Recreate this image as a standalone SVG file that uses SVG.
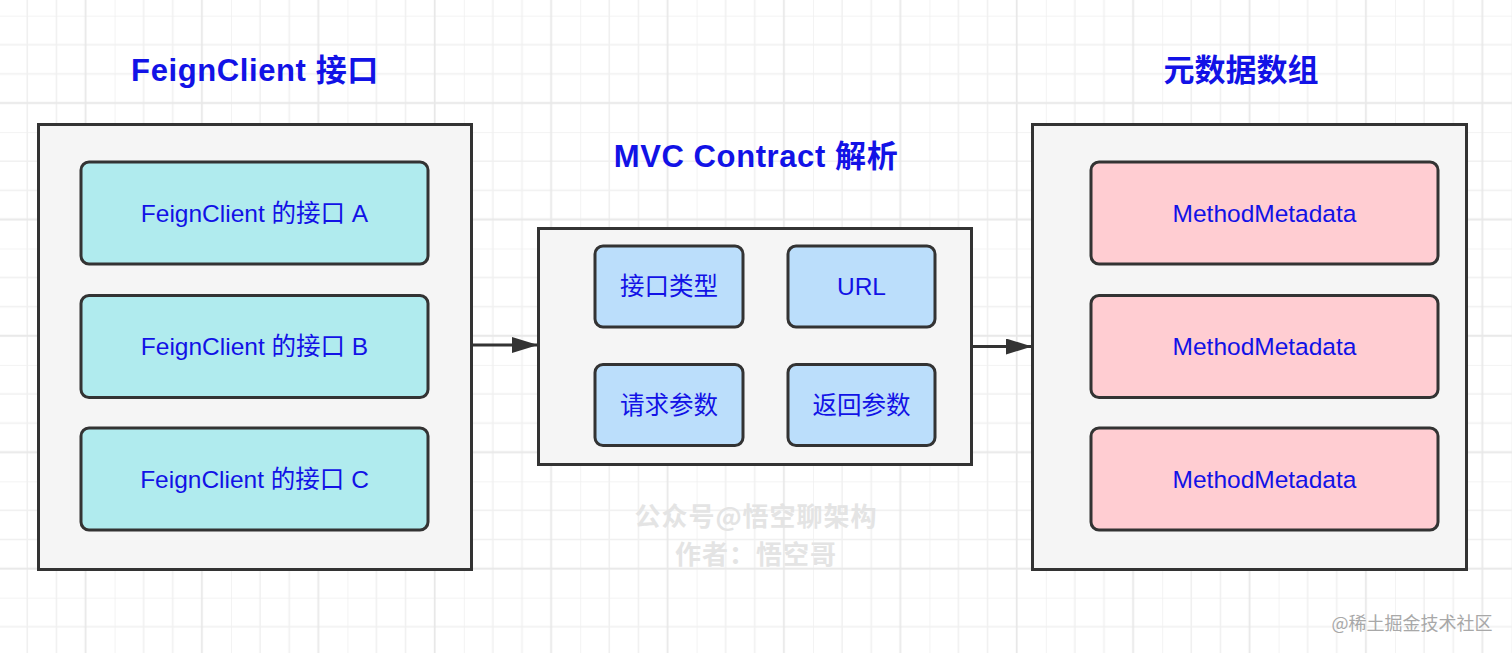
<svg xmlns="http://www.w3.org/2000/svg" width="1512" height="653" viewBox="0 0 1512 653">
  <defs>
    <pattern id="grid" x="-1.8" y="15.7" width="116.4" height="116.4" patternUnits="userSpaceOnUse">
      <path d="M0 0V116.4M29.1 0V116.4M58.2 0V116.4M0 0H116.4M0 29.1H116.4M0 58.2H116.4" stroke="#f0f0f0" stroke-width="1.5" fill="none"/>
      <path d="M87.3 0V116.4M0 87.3H116.4" stroke="#e8e8e8" stroke-width="1.8" fill="none"/>
    </pattern>
    <marker id="arrow" markerWidth="26" markerHeight="16" refX="26" refY="8" orient="auto" markerUnits="userSpaceOnUse">
      <path d="M0 0L26 8L0 16Z" fill="#333"/>
    </marker>
    <style>
      .container{fill:#f5f5f5;stroke:#333;stroke-width:3}
      .cyan{fill:#b0ebee;stroke:#333;stroke-width:3}
      .blue{fill:#bbdefb;stroke:#333;stroke-width:3}
      .pink{fill:#ffcdd2;stroke:#333;stroke-width:3}
      .title{font-family:"Liberation Sans","Noto Sans CJK SC",sans-serif;font-size:31px;font-weight:bold;fill:#1212e6;text-anchor:middle}
      .label{font-family:"Liberation Sans","Noto Sans CJK SC",sans-serif;font-size:24.5px;fill:#1212e6;text-anchor:middle;dominant-baseline:central}
      .wm{font-family:"Noto Sans CJK SC",sans-serif;font-size:26px;font-weight:bold;fill:#e4e4e4;text-anchor:middle}
      .conn{stroke:#333;stroke-width:3;fill:none}
    </style>
  </defs>
  <rect width="1512" height="653" fill="#ffffff"/>
  <rect width="1512" height="653" fill="url(#grid)"/>

  <text class="title" x="255" y="81" letter-spacing="0.6">FeignClient 接口</text>
  <text class="title" x="756" y="167" letter-spacing="0.6">MVC Contract 解析</text>
  <text class="title" x="1241" y="81">元数据数组</text>

  <g id="left-container">
    <rect class="container" x="38.5" y="124.5" width="433" height="445"/>
  </g>
  <g id="feign-a">
    <rect class="cyan" x="81" y="162" width="347" height="102" rx="8"/>
    <text class="label" x="254.5" y="213">FeignClient 的接口 A</text>
  </g>
  <g id="feign-b">
    <rect class="cyan" x="81" y="295.5" width="347" height="102" rx="8"/>
    <text class="label" x="254.5" y="346.5">FeignClient 的接口 B</text>
  </g>
  <g id="feign-c">
    <rect class="cyan" x="81" y="428" width="347" height="102" rx="8"/>
    <text class="label" x="254.5" y="479">FeignClient 的接口 C</text>
  </g>

  <g id="mid-container">
    <rect class="container" x="538.5" y="228.5" width="433" height="236"/>
  </g>
  <g id="iface-type">
    <rect class="blue" x="595" y="246" width="148" height="81" rx="8"/>
    <text class="label" x="669" y="286.5">接口类型</text>
  </g>
  <g id="url">
    <rect class="blue" x="788" y="246" width="147" height="81" rx="8"/>
    <text class="label" x="861.5" y="286.5">URL</text>
  </g>
  <g id="req-params">
    <rect class="blue" x="595" y="364.5" width="148" height="81" rx="8"/>
    <text class="label" x="669" y="405">请求参数</text>
  </g>
  <g id="resp-params">
    <rect class="blue" x="788" y="364.5" width="147" height="81" rx="8"/>
    <text class="label" x="861.5" y="405">返回参数</text>
  </g>

  <g id="right-container">
    <rect class="container" x="1032.5" y="124.5" width="434" height="445"/>
  </g>
  <g id="meta-1">
    <rect class="pink" x="1091" y="162" width="347" height="102" rx="8"/>
    <text class="label" x="1264.5" y="213">MethodMetadata</text>
  </g>
  <g id="meta-2">
    <rect class="pink" x="1091" y="295.5" width="347" height="102" rx="8"/>
    <text class="label" x="1264.5" y="346.5">MethodMetadata</text>
  </g>
  <g id="meta-3">
    <rect class="pink" x="1091" y="428" width="347" height="102" rx="8"/>
    <text class="label" x="1264.5" y="479">MethodMetadata</text>
  </g>

  <g id="connectors">
    <line class="conn" x1="472" y1="345" x2="538" y2="345" marker-end="url(#arrow)"/>
    <line class="conn" x1="972" y1="346.5" x2="1032" y2="346.5" marker-end="url(#arrow)"/>
  </g>

  <text class="wm" x="756" y="526" letter-spacing="1">公众号@悟空聊架构</text>
  <text class="wm" x="756" y="564" letter-spacing="1">作者：悟空哥</text>
  <text x="1412" y="630" font-family="Noto Sans CJK SC, sans-serif" font-size="18" fill="#a8a8a8" text-anchor="middle">@稀土掘金技术社区</text>
</svg>
